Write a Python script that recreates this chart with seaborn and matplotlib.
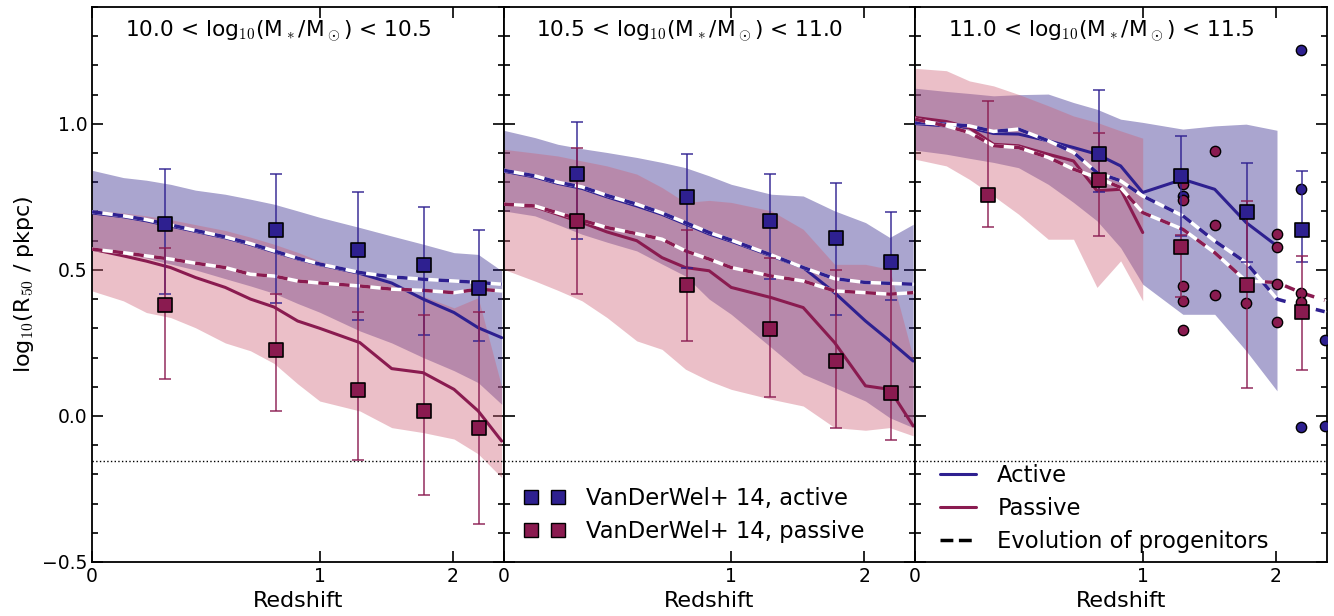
import numpy as np
import matplotlib
matplotlib.use("Agg")
import matplotlib.pyplot as plt
from matplotlib.lines import Line2D
from matplotlib.ticker import MultipleLocator, NullLocator
import seaborn as sns

# simulation snapshot redshifts
z_sim = [0.0, 0.1, 0.18, 0.27, 0.37, 0.5, 0.62, 0.74, 0.87, 1.0,
         1.26, 1.49, 1.74, 2.01, 2.24, 2.48]
# observed bins (VanDerWel+14)
z_obs = [0.25, 0.75, 1.25, 1.75, 2.25]

# ---- panel 1 : 10.0 - 10.5 ----
p1_act_med = [0.695, 0.682, 0.668, 0.650, 0.632, 0.610, 0.587, 0.562, 0.538, 0.518,
              0.488, 0.455, 0.400, 0.354, 0.302, 0.268]
p1_act_prog = [0.699, 0.685, 0.672, 0.654, 0.635, 0.613, 0.590, 0.565, 0.540, 0.520,
               0.491, 0.476, 0.468, 0.462, 0.457, 0.451]
p1_act_hi = [0.841, 0.816, 0.807, 0.793, 0.773, 0.759, 0.742, 0.725, 0.702, 0.680,
             0.645, 0.616, 0.588, 0.559, 0.553, 0.497]
p1_act_lo = [0.570, 0.555, 0.540, 0.520, 0.500, 0.470, 0.445, 0.420, 0.385, 0.355,
             0.291, 0.250, 0.200, 0.155, 0.114, 0.040]
p1_pas_med = [0.571, 0.548, 0.530, 0.508, 0.474, 0.440, 0.400, 0.373, 0.325, 0.300,
              0.251, 0.162, 0.148, 0.091, 0.017, -0.086]
p1_pas_prog = [0.571, 0.559, 0.548, 0.537, 0.523, 0.508, 0.485, 0.479, 0.462, 0.455,
               0.445, 0.434, 0.430, 0.422, 0.434, 0.428]
p1_pas_hi = [0.705, 0.695, 0.685, 0.672, 0.655, 0.635, 0.612, 0.588, 0.560, 0.530,
             0.490, 0.450, 0.410, 0.370, 0.405, 0.100]
p1_pas_lo = [0.428, 0.394, 0.354, 0.337, 0.302, 0.250, 0.223, 0.180, 0.110, 0.051,
             0.017, -0.040, -0.057, -0.079, -0.130, -0.211]
p1_obs_act = [0.658, 0.638, 0.567, 0.518, 0.437]
p1_obs_act_hi = [0.847, 0.828, 0.768, 0.717, 0.638]
p1_obs_act_lo = [0.417, 0.388, 0.328, 0.277, 0.257]
p1_obs_pas = [0.379, 0.227, 0.088, 0.017, -0.042]
p1_obs_pas_hi = [0.576, 0.417, 0.357, 0.346, 0.357]
p1_obs_pas_lo = [0.128, 0.017, -0.152, -0.272, -0.371]

# ---- panel 2 : 10.5 - 11.0 ----
p2_act_med = [0.838, 0.818, 0.796, 0.779, 0.750, 0.719, 0.690, 0.657, 0.623, 0.598,
              0.548, 0.508, 0.422, 0.325, 0.257, 0.188]
p2_act_prog = [0.841, 0.822, 0.800, 0.784, 0.755, 0.725, 0.695, 0.662, 0.628, 0.602,
               0.551, 0.508, 0.470, 0.457, 0.454, 0.451]
p2_act_hi = [0.978, 0.953, 0.930, 0.915, 0.902, 0.885, 0.868, 0.850, 0.822, 0.793,
             0.759, 0.753, 0.702, 0.662, 0.611, 0.656]
p2_act_lo = [0.702, 0.685, 0.655, 0.622, 0.595, 0.565, 0.520, 0.479, 0.400, 0.348,
             0.234, 0.143, 0.097, 0.051, -0.006, -0.040]
p2_pas_med = [0.725, 0.716, 0.690, 0.662, 0.630, 0.600, 0.542, 0.508, 0.497, 0.440,
              0.405, 0.371, 0.251, 0.103, 0.091, -0.034]
p2_pas_prog = [0.725, 0.719, 0.695, 0.670, 0.645, 0.624, 0.605, 0.565, 0.537, 0.508,
               0.479, 0.462, 0.428, 0.422, 0.417, 0.422]
p2_pas_hi = [0.913, 0.900, 0.890, 0.873, 0.856, 0.828, 0.782, 0.731, 0.738, 0.731,
             0.702, 0.639, 0.519, 0.519, 0.502, 0.200]
p2_pas_lo = [0.502, 0.462, 0.430, 0.394, 0.337, 0.257, 0.228, 0.160, 0.120, 0.091,
             0.057, 0.034, -0.040, -0.049, -0.040, -0.068]
p2_obs_act = [0.828, 0.748, 0.668, 0.608, 0.527]
p2_obs_act_hi = [1.007, 0.898, 0.828, 0.798, 0.698]
p2_obs_act_lo = [0.607, 0.508, 0.468, 0.346, 0.397]
p2_obs_pas = [0.668, 0.449, 0.297, 0.188, 0.078]
p2_obs_pas_hi = [0.919, 0.637, 0.540, 0.499, 0.537]
p2_obs_pas_lo = [0.417, 0.257, 0.066, -0.043, -0.082]

# ---- panel 3 : 11.0 - 11.5 (bands stop early: few galaxies) ----
p3_act_med = [1.001, 0.993, 0.987, 0.967, 0.965, 0.942, 0.919, 0.896, 0.856, 0.765,
              0.810, 0.776, 0.662, 0.582]
p3_act_prog = [1.005, 0.999, 0.993, 0.974, 0.982, 0.942, 0.902, 0.833, 0.805, 0.753,
               0.685, 0.599, 0.525, 0.400, 0.377, 0.357]
p3_act_hi = [1.122, 1.111, 1.104, 1.096, 1.100, 1.102, 1.073, 1.050, 1.016, 1.005,
             0.982, 0.993, 0.999, 0.978]
p3_act_lo = [0.910, 0.896, 0.882, 0.868, 0.850, 0.793, 0.731, 0.668, 0.576, 0.451,
             0.348, 0.348, 0.223, 0.086]
p3_pas_med = [1.022, 1.008, 0.987, 0.930, 0.925, 0.896, 0.873, 0.771, 0.776, 0.628]
p3_pas_prog = [1.016, 0.993, 0.970, 0.925, 0.919, 0.885, 0.845, 0.816, 0.782, 0.696,
               0.639, 0.559, 0.462, 0.457, 0.422, 0.396]
p3_pas_hi = [1.190, 1.182, 1.147, 1.130, 1.101, 1.062, 1.027, 1.005, 0.976, 0.951]
p3_pas_lo = [0.879, 0.856, 0.810, 0.753, 0.691, 0.605, 0.605, 0.440, 0.531, 0.394]
p3_obs_act = [np.nan, 0.896, 0.820, 0.697, 0.637]
p3_obs_act_hi = [np.nan, 1.116, 0.957, 0.866, 0.837]
p3_obs_act_lo = [np.nan, 0.768, 0.616, 0.527, 0.527]
p3_obs_pas = [0.757, 0.808, 0.579, 0.449, 0.357]
p3_obs_pas_hi = [1.079, 0.967, 0.620, 0.736, 0.548]
p3_obs_pas_lo = [0.647, 0.616, 0.408, 0.097, 0.158]
# individual galaxies where the sample is sparse
p3_gal_act_z = [1.26, 2.24, 2.24, 2.24, 2.48, 2.48]
p3_gal_act_r = [0.752, 1.253, 0.776, -0.038, 0.260, -0.034]
p3_gal_pas_z = [1.26, 1.26, 1.26, 1.26, 1.26, 1.49, 1.49, 1.49, 1.74,
                2.01, 2.01, 2.01, 2.01, 2.24, 2.24]
p3_gal_pas_r = [0.793, 0.740, 0.445, 0.394, 0.293, 0.908, 0.652, 0.414, 0.385,
                0.624, 0.579, 0.453, 0.323, 0.422, 0.390]

titles = [r"10.0 < log$_{10}$(M$_*$/M$_\odot$) < 10.5",
          r"10.5 < log$_{10}$(M$_*$/M$_\odot$) < 11.0",
          r"11.0 < log$_{10}$(M$_*$/M$_\odot$) < 11.5"]

BLUE = "#2e2090"
MAROON = "#8a1b50"
BLUE_FILL = "#2b1e87"
PINK_FILL = "#cd6176"

panels = [
    dict(am=p1_act_med, ap=p1_act_prog, ahi=p1_act_hi, alo=p1_act_lo,
         pm=p1_pas_med, pp=p1_pas_prog, phi=p1_pas_hi, plo=p1_pas_lo,
         oa=p1_obs_act, oahi=p1_obs_act_hi, oalo=p1_obs_act_lo,
         op=p1_obs_pas, ophi=p1_obs_pas_hi, oplo=p1_obs_pas_lo),
    dict(am=p2_act_med, ap=p2_act_prog, ahi=p2_act_hi, alo=p2_act_lo,
         pm=p2_pas_med, pp=p2_pas_prog, phi=p2_pas_hi, plo=p2_pas_lo,
         oa=p2_obs_act, oahi=p2_obs_act_hi, oalo=p2_obs_act_lo,
         op=p2_obs_pas, ophi=p2_obs_pas_hi, oplo=p2_obs_pas_lo),
    dict(am=p3_act_med, ap=p3_act_prog, ahi=p3_act_hi, alo=p3_act_lo,
         pm=p3_pas_med, pp=p3_pas_prog, phi=p3_pas_hi, plo=p3_pas_lo,
         oa=p3_obs_act, oahi=p3_obs_act_hi, oalo=p3_obs_act_lo,
         op=p3_obs_pas, ophi=p3_obs_pas_hi, oplo=p3_obs_pas_lo),
]

sns.set_style("ticks", {"xtick.direction": "in", "ytick.direction": "in",
                        "axes.edgecolor": "black", "text.color": "black",
                        "axes.labelcolor": "black", "xtick.color": "black",
                        "ytick.color": "black"})
plt.rcParams["font.family"] = ["DejaVu Sans"]
plt.rcParams["mathtext.fontset"] = "cm"
plt.rcParams["axes.linewidth"] = 1.3


def fwd(z):
    return np.log10(1.0 + np.clip(np.asarray(z, dtype=float), -0.99, None))


def inv(x):
    return 10.0 ** np.asarray(x, dtype=float) - 1.0


fig, axes = plt.subplots(1, 3, figsize=(13.34, 6.16), dpi=100, sharey=True)
fig.subplots_adjust(left=0.069, right=0.9944, top=0.9886, bottom=0.0877, wspace=0)

for i, (ax, p) in enumerate(zip(axes, panels)):
    ax.set_xscale("function", functions=(fwd, inv))
    na = len(p["ahi"])
    npas = len(p["phi"])
    ax.fill_between(z_sim[:na], p["alo"], p["ahi"], color=BLUE_FILL, alpha=0.4, lw=0, zorder=1)
    ax.fill_between(z_sim[:npas], p["plo"], p["phi"], color=PINK_FILL, alpha=0.4, lw=0, zorder=1)

    sns.lineplot(x=z_sim[:len(p["am"])], y=p["am"], ax=ax, color=BLUE, lw=2.2, zorder=3)
    sns.lineplot(x=z_sim[:len(p["pm"])], y=p["pm"], ax=ax, color=MAROON, lw=2.2, zorder=3)
    for prog, c in [(p["ap"], BLUE), (p["pp"], MAROON)]:
        sns.lineplot(x=z_sim, y=prog, ax=ax, color="white", lw=2.5, zorder=4)
        sns.lineplot(x=z_sim, y=prog, ax=ax, color=c, lw=2.5, linestyle=(0, (3, 3)), zorder=4)

    if i == 2:
        sns.scatterplot(x=p3_gal_act_z, y=p3_gal_act_r, ax=ax, color=BLUE, s=55,
                        edgecolor="k", linewidth=1.0, zorder=5)
        sns.scatterplot(x=p3_gal_pas_z, y=p3_gal_pas_r, ax=ax, color=MAROON, s=55,
                        edgecolor="k", linewidth=1.0, zorder=5)

    zo = np.array(z_obs)
    for y, hi, lo, c in [(p["oa"], p["oahi"], p["oalo"], BLUE),
                         (p["op"], p["ophi"], p["oplo"], MAROON)]:
        y = np.array(y)
        yerr = [y - np.array(lo), np.array(hi) - y]
        ax.errorbar(zo, y, yerr=yerr, fmt="none", ecolor=c, elinewidth=1.2,
                    capsize=4, capthick=1.2, alpha=0.85, zorder=6)
        ok = ~np.isnan(y)
        sns.scatterplot(x=zo[ok], y=y[ok], ax=ax, color=c, marker="s", s=100,
                        edgecolor="k", linewidth=1.2, zorder=7)

    ax.axhline(np.log10(0.7), color="k", ls=":", lw=1.0, zorder=2)

    ax.set_xlim(0, 2.5)
    ax.set_ylim(-0.5, 1.4)
    ax.set_xticks([0, 1, 2])
    ax.set_xticklabels(["0", "1", "2"])
    ax.xaxis.set_minor_locator(NullLocator())
    ax.yaxis.set_major_locator(MultipleLocator(0.5))
    ax.yaxis.set_minor_locator(MultipleLocator(0.1))
    ax.tick_params(which="both", top=True, right=True, direction="in", labelsize=13.5,
                   width=1.2, colors="black")
    ax.tick_params(which="major", length=8)
    ax.tick_params(which="minor", length=4)
    ax.set_xlabel("Redshift", fontsize=16)
    ax.text(0.08, 0.98, titles[i], transform=ax.transAxes, ha="left", va="top", fontsize=15.6)

axes[0].set_ylabel(r"log$_{10}$(R$_{50}$ / pkpc)", fontsize=16)
axes[0].set_yticks([-0.5, 0.0, 0.5, 1.0])

h_obs = [Line2D([], [], ls="none", marker="s", mfc=BLUE, mec="k", mew=1.0, ms=9.5),
         Line2D([], [], ls="none", marker="s", mfc=MAROON, mec="k", mew=1.0, ms=9.5)]
axes[1].legend(h_obs, ["VanDerWel+ 14, active", "VanDerWel+ 14, passive"],
               loc="lower left", bbox_to_anchor=(0.0, -0.003), numpoints=2, frameon=False,
               fontsize=16.3, handlelength=1.8, handletextpad=0.95, labelspacing=0.45)

h_sim = [Line2D([], [], color=BLUE, lw=2.2),
         Line2D([], [], color=MAROON, lw=2.2),
         Line2D([], [], color="k", lw=2.5, ls="--")]
axes[2].legend(h_sim, ["Active", "Passive", "Evolution of progenitors"],
               loc="lower left", bbox_to_anchor=(0.01, -0.021), frameon=False, fontsize=16.3,
               handlelength=1.6, handletextpad=0.95, labelspacing=0.45)

fig.savefig("out.png", dpi=100)
